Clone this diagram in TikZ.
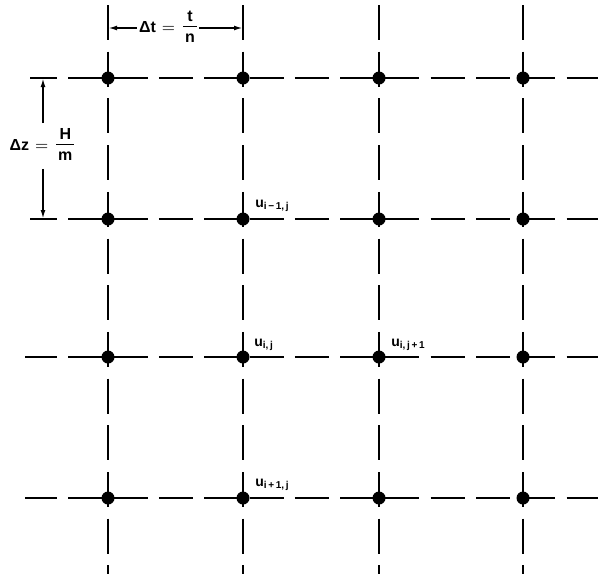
\documentclass[tikz,border=0pt]{standalone}
\usepackage{fontspec}
\setmainfont{Liberation Sans}
\usetikzlibrary{positioning,arrows.meta,calc}

\newcommand{\stepfrac}[2]{\begin{tabular}{@{\kern1pt}c@{\kern1pt}}#1\\[-1pt]\hline\rule{0pt}{8pt}#2\end{tabular}}

\begin{document}
\begin{tikzpicture}[
  x=0.5pt, y=-0.5pt,
  dot/.style={circle, fill=black, inner sep=0pt, minimum size=6.5pt},
  hline/.style={line width=0.8pt, dash pattern=on 17pt off 5.65pt},
  vline/.style={line width=0.8pt, dash pattern=on 17.5pt off 5.85pt},
  ulabel/.style={anchor=base west, inner sep=0pt, font=\fontsize{7}{8}\selectfont\bfseries},
  dimlabel/.style={inner sep=1pt, font=\fontsize{8}{10}\selectfont\bfseries},
  dimarrow/.style={line width=0.8pt, -{Latex[length=4.5pt, width=2.4pt]}}
]
\useasboundingbox (0,0) rectangle (598,574);

% grid lines
\draw[vline] (108,5) -- (108,574);
\draw[vline] (243,5) -- (243,574);
\draw[vline] (379,5) -- (379,574);
\draw[vline] (523,5) -- (523,574);
\draw[hline, dash phase=3.5pt] (30,78) -- (598,78);
\draw[hline, dash phase=3.5pt] (30,219) -- (598,219);
\draw[hline, dash phase=1pt] (25,357) -- (598,357);
\draw[hline, dash phase=1pt] (25,498) -- (598,498);

% grid points
\node[dot] (a1) at (108,78) {};
\node[dot] (a2) at (243,78) {};
\node[dot] (a3) at (379,78) {};
\node[dot] (a4) at (523,78) {};
\node[dot] (b1) at (108,219) {};
\node[dot] (b2) at (243,219) {};
\node[dot] (b3) at (379,219) {};
\node[dot] (b4) at (523,219) {};
\node[dot] (c1) at (108,357) {};
\node[dot] (c2) at (243,357) {};
\node[dot] (c3) at (379,357) {};
\node[dot] (c4) at (523,357) {};
\node[dot] (d1) at (108,498) {};
\node[dot] (d2) at (243,498) {};
\node[dot] (d3) at (379,498) {};
\node[dot] (d4) at (523,498) {};

% point labels
\node[ulabel] (ub2) at ($(b2)+(12,-12)$) {u\textsubscript{i\,−\,1,\,j}};
\node[ulabel] (uc2) at ($(c2)+(11,-11)$) {u\textsubscript{i,\,j}};
\node[ulabel] (uc3) at ($(c3)+(12,-11)$) {u\textsubscript{i,\,j\,+\,1}};
\node[ulabel] (ud2) at ($(d2)+(12,-12)$) {u\textsubscript{i\,+\,1,\,j}};

% step sizes
\node[dimlabel] (dtlab) at (168,28) {Δt\hspace{3pt}$=$\hspace{4pt}\stepfrac{t}{n}};
\coordinate (dtl) at (108,28);
\coordinate (dtr) at (243,28);
\draw[dimarrow] (dtl -| dtlab.west) -- (dtl);
\draw[dimarrow] (dtr -| dtlab.east) -- (dtr);

\node[dimlabel] (dzlab) at (42,146) {Δz\hspace{3pt}$=$\hspace{4pt}\stepfrac{H}{m}};
\coordinate (dzt) at (43,78);
\coordinate (dzb) at (43,219);
\draw[dimarrow] (dzt |- dzlab.north) -- (dzt);
\draw[dimarrow] (dzb |- dzlab.south) -- (dzb);
\end{tikzpicture}
\end{document}
